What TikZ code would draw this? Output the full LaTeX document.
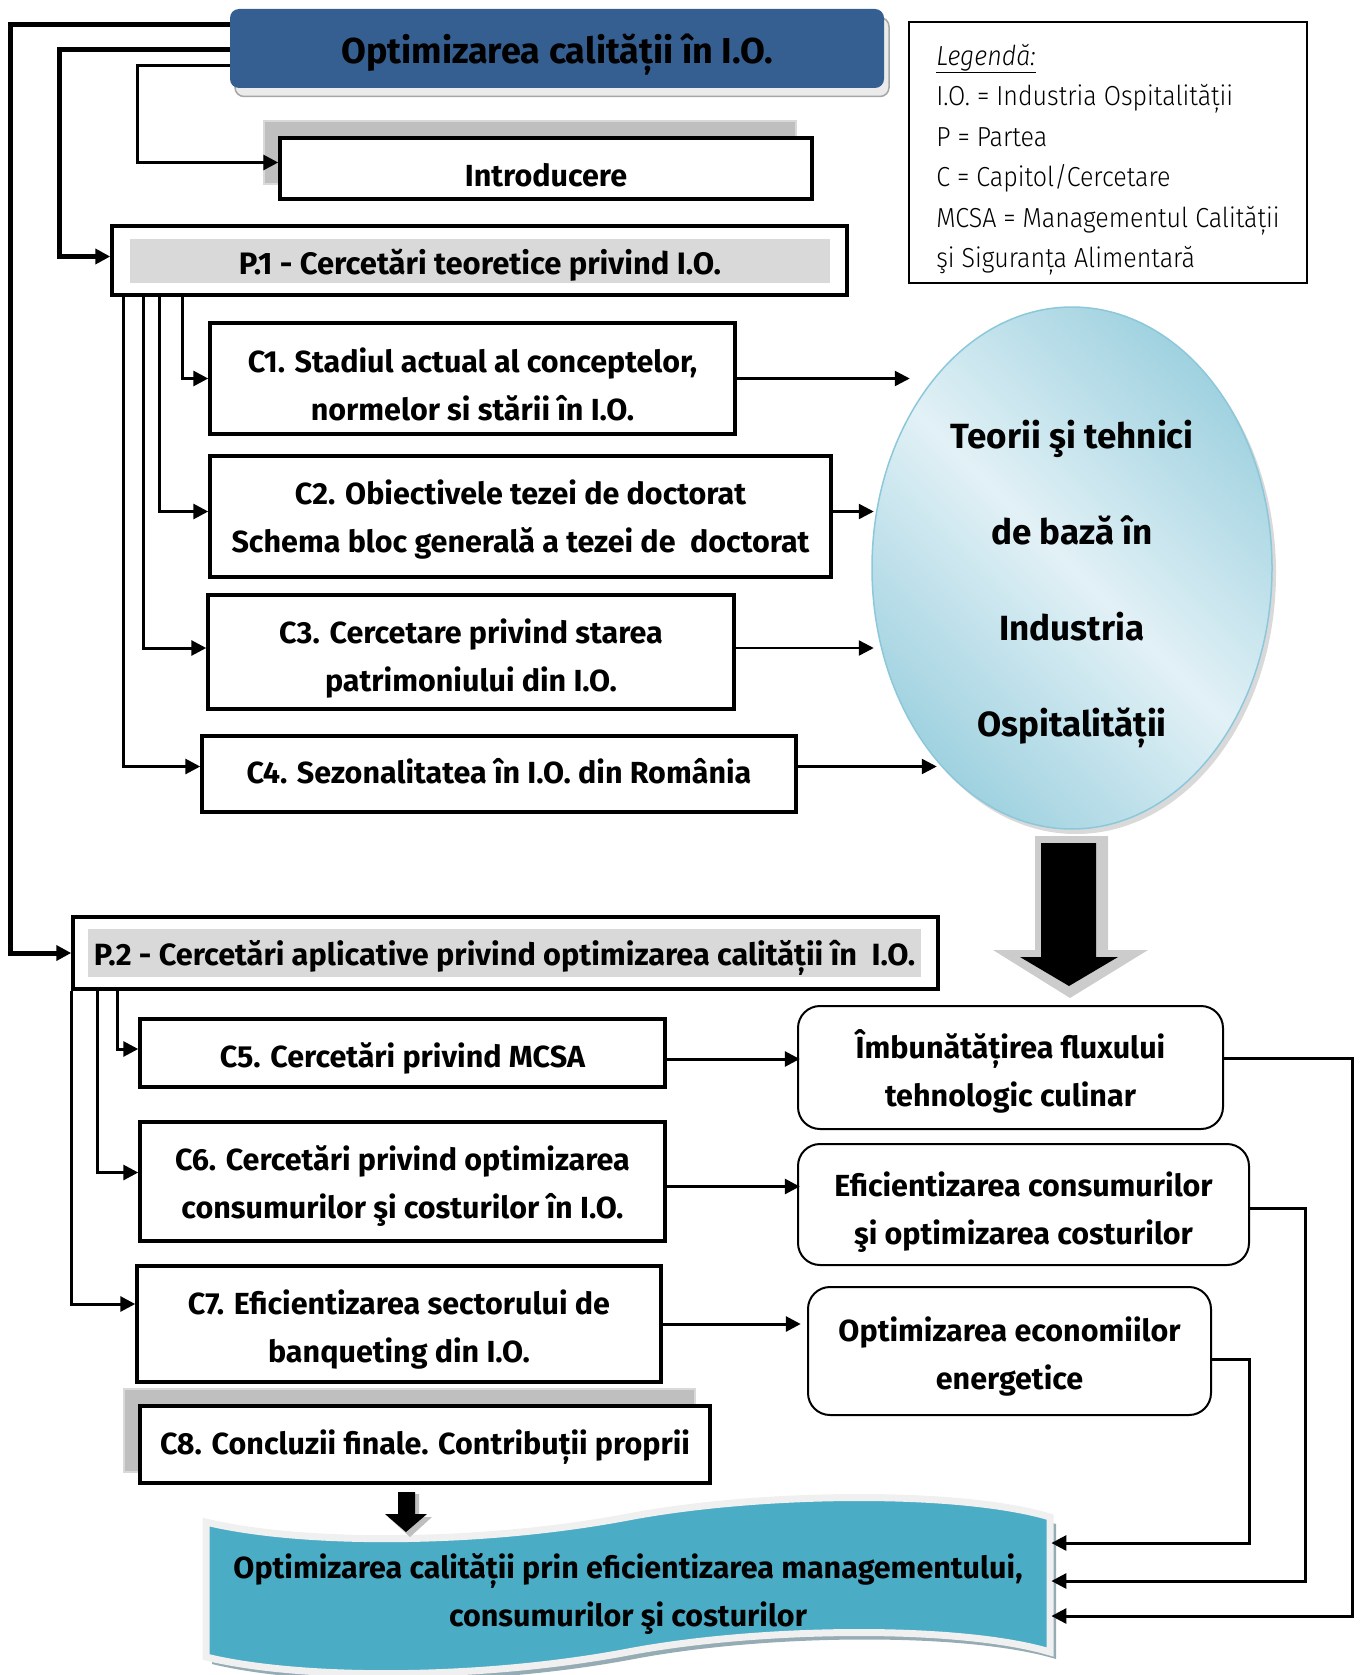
\documentclass[tikz,border=0pt]{standalone}
\usepackage{fontspec}
\setmainfont{Fira Sans}
\newfontfamily\legendfont{Fira Sans Light}[FakeStretch=0.91]
\usetikzlibrary{arrows.meta,shapes.geometric}
\definecolor{titleblue}{RGB}{54,95,145}
\definecolor{ellouter}{RGB}{160,210,224}
\definecolor{ellinner}{RGB}{226,241,246}
\definecolor{ellborder}{RGB}{140,200,218}
\definecolor{bannerblue}{RGB}{75,172,198}
\definecolor{bannershadow}{RGB}{150,172,180}

\begin{document}
\begin{tikzpicture}[x=1pt, y=-1pt, thick, >={Triangle[length=15pt,width=15pt]},
    cbox/.style={draw, line width=3.5pt, fill=white, inner sep=0pt, align=center,
        font=\bfseries\fontsize{30.5}{48}\selectfont},
    oneline/.style={text height=27pt, text depth=0pt},
    twoline/.style={text height=76pt, text depth=0pt},
    graybox/.style={fill=black!25, draw=black!15, line width=1.5pt},
    rbox/.style={draw, line width=2pt, rounded corners=22pt, inner sep=0pt, align=center,
        font=\bfseries\fontsize{30.5}{48}\selectfont},
    link/.style={->, line width=3pt}]
    \useasboundingbox (0,0) rectangle (1362,1675);

    \node[draw=black!35, fill=black!8, line width=1.5pt, rounded corners=9pt, minimum width=654pt, minimum height=79pt] (titlesh) at (562,57) {};
    \node[fill=titleblue, rounded corners=9pt, minimum width=654pt, minimum height=79pt, text height=31pt, text depth=0pt, font=\bfseries\fontsize{36}{40}\selectfont] (title) at (557,48.5) {Optimizarea calității în I.O.};

    \node[draw, line width=1.8pt, minimum width=398pt, minimum height=261pt, inner sep=0pt, align=left, text height=230pt, text depth=0pt, font=\legendfont\fontsize{27.5}{40.5}\selectfont] (legend) at (1108,152.5) {\underline{\textit{Legendă:}}\\ I.O. = Industria Ospitalității\\ P = Partea\\ C = Capitol/Cercetare\\ MCSA = Managementul Calității\hspace*{15pt}\\ şi Siguranța Alimentară};

    \node[graybox, minimum width=532pt, minimum height=63pt] (introsh) at (530,152.5) {};
    \node[cbox, minimum width=532pt, minimum height=61pt, text height=36pt, text depth=0pt] (intro) at (546,168.5) {Introducere};

    \node[draw, line width=3.5pt, minimum width=735pt, minimum height=69pt] (P1) at (479.5,260.5) {};
    \node[fill=black!15, minimum width=700pt, minimum height=44pt, inner sep=0pt, text height=27pt, text depth=0pt, font=\bfseries\fontsize{31}{40}\selectfont] (P1t) at (480,261) {P.1 - Cercetări teoretice privind I.O.};

    \node[cbox, twoline, text height=83pt, minimum width=525pt, minimum height=111pt] (C1) at (472.5,378.5) {C1. Stadiul actual al conceptelor,\\ normelor si stării în I.O.};
    \node[cbox, twoline, text height=72pt, minimum width=621pt, minimum height=121pt] (C2) at (520.5,516.5) {C2. Obiectivele tezei de doctorat\\ Schema bloc generală a tezei de~ doctorat};
    \node[cbox, twoline, text height=79pt, minimum width=526pt, minimum height=114pt] (C3) at (471,652) {C3. Cercetare privind starea\\ patrimoniului din I.O.};
    \node[cbox, oneline, text height=19pt, minimum width=594pt, minimum height=76pt] (C4) at (499,774) {C4. Sezonalitatea în I.O. din România};

    \node[ellipse, draw=ellborder, line width=1.5pt, top color=ellouter, bottom color=ellouter, middle color=ellinner, shading angle=-45,
        preaction={fill=black!15, transform canvas={xshift=4pt,yshift=-5pt}},
        minimum width=400pt, minimum height=522pt] (ell) at (1072,568) {};
    \node[align=center, text height=316pt, text depth=0pt, font=\bfseries\fontsize{35}{96}\selectfont] (elltext) at (1072,578) {Teorii şi tehnici\\ de bază în\\ Industria\\ Ospitalității};

    \fill[black!20] (1035,836) -- (1108,836) -- (1108,950) -- (1148,950) -- (1070,998) -- (993,950) -- (1035,950) -- cycle;
    \fill (1041,843) -- (1096,843) -- (1096,957) -- (1118,957) -- (1069,986) -- (1020,957) -- (1041,957) -- cycle;

    \node[draw, line width=3.5pt, minimum width=865pt, minimum height=72pt] (P2) at (505.5,953) {};
    \node[fill=black!15, minimum width=833pt, minimum height=48pt, inner sep=0pt, text height=24pt, text depth=0pt, font=\bfseries\fontsize{30.7}{40}\selectfont] (P2t) at (504.5,953) {P.2 - Cercetări aplicative privind optimizarea calității în~ I.O.};

    \node[cbox, oneline, text height=29pt, minimum width=525pt, minimum height=68pt] (C5) at (402.5,1053) {C5. Cercetări privind MCSA};
    \node[cbox, twoline, text height=73pt, minimum width=525pt, minimum height=119pt] (C6) at (402.5,1181.5) {C6. Cercetări privind optimizarea\\ consumurilor şi costurilor în I.O.};
    \node[cbox, twoline, text height=77pt, minimum width=524pt, minimum height=116pt] (C7) at (399,1324) {C7. Eficientizarea sectorului de\\ banqueting din I.O.};
    \node[graybox, minimum width=571pt, minimum height=83pt] (C8sh) at (409.5,1430.5) {};
    \node[cbox, oneline, text height=19pt, minimum width=570pt, minimum height=77pt] (C8) at (425,1444.5) {C8. Concluzii finale. Contribuții proprii};

    \node[rbox, twoline, text height=77pt, minimum width=425pt, minimum height=123pt] (R1) at (1010.5,1067.5) {Îmbunătățirea fluxului\\ tehnologic culinar};
    \node[rbox, twoline, text height=80pt, minimum width=451pt, minimum height=121pt] (R2) at (1023.5,1204.5) {Eficientizarea consumurilor\\ şi optimizarea costurilor};
    \node[rbox, twoline, text height=76pt, minimum width=403pt, minimum height=128pt] (R3) at (1009.5,1351) {Optimizarea economiilor\\ energetice};

    \fill[bannerblue, draw=black!6, line width=7pt, preaction={fill=bannershadow, transform canvas={xshift=6pt,yshift=-7pt}}]
        (206,1522) .. controls (300,1545) and (480,1545) .. (628,1517) .. controls (760,1492) and (960,1490) .. (1050,1517)
        -- (1050,1652) .. controls (960,1625) and (760,1627) .. (628,1652) .. controls (480,1680) and (300,1680) .. (206,1657) -- cycle;
    \node[twoline, text height=71pt, minimum width=846pt, minimum height=135pt, inner sep=0pt, align=center, font=\bfseries\fontsize{30.5}{48}\selectfont] (fin) at (628,1591) {Optimizarea calității prin eficientizarea managementului,\\ consumurilor şi costurilor};

    \fill[black!25] (400,1494) -- (419,1494) -- (419,1517) -- (432,1517) -- (410,1537) -- (388,1517) -- (400,1517) -- cycle;
    \fill (398,1492) -- (415,1492) -- (415,1514) -- (427,1514) -- (406,1532) -- (385,1514) -- (398,1514) -- cycle;

    \draw[link, line width=5pt] ([yshift=23.5pt]title.west) -- ++(-219,0) |- (P2.west);
    \draw[link, line width=5pt] ([yshift=-1.5pt]title.west) -- ++(-170,0) |- ([yshift=4pt]P1.west);
    \draw[link] ([yshift=-17.5pt]title.west) -- ++(-92,0) |- ([yshift=6pt]intro.west);

    \draw[link] ([xshift=72pt]P1.south west) |- (C1.west);
    \draw[link] ([xshift=49pt]P1.south west) |- ([yshift=5pt]C2.west);
    \draw[link] ([xshift=33pt]P1.south west) |- ([yshift=4pt]C3.west);
    \draw[link] ([xshift=13pt]P1.south west) |- ([yshift=7.5pt]C4.west);

    \draw[link, line width=2.5pt] (C1.east) -- ++(173,0);
    \draw[link, line width=2.5pt] ([yshift=5pt]C2.east) -- ++(41,0);
    \draw[link, line width=2.5pt] ([yshift=4pt]C3.east) -- ++(138,0);
    \draw[link, line width=2.5pt] ([yshift=7.5pt]C4.east) -- ++(139,0);

    \draw[link] ([xshift=46pt]P2.south west) |- ([yshift=4pt]C5.west);
    \draw[link] ([xshift=26pt]P2.south west) |- ([yshift=9pt]C6.west);
    \draw[link] (P2.south west) |- ([yshift=20pt]C7.west);

    \draw[link] ([yshift=-6pt]C5.east) -- ++(133,0);
    \draw[link] ([yshift=-5pt]C6.east) -- ++(133,0);
    \draw[link] (C7.east) -- ++(138,0);

    \draw[link] ([yshift=9pt]R1.east) -- ++(128,0) |- ([yshift=-25pt]fin.east);
    \draw[link] ([yshift=-4pt]R2.east) -- ++(55,0) |- ([yshift=10pt]fin.east);
    \draw[link] ([yshift=-8pt]R3.east) -- ++(37,0) |- ([yshift=48pt]fin.east);
\end{tikzpicture}
\end{document}
